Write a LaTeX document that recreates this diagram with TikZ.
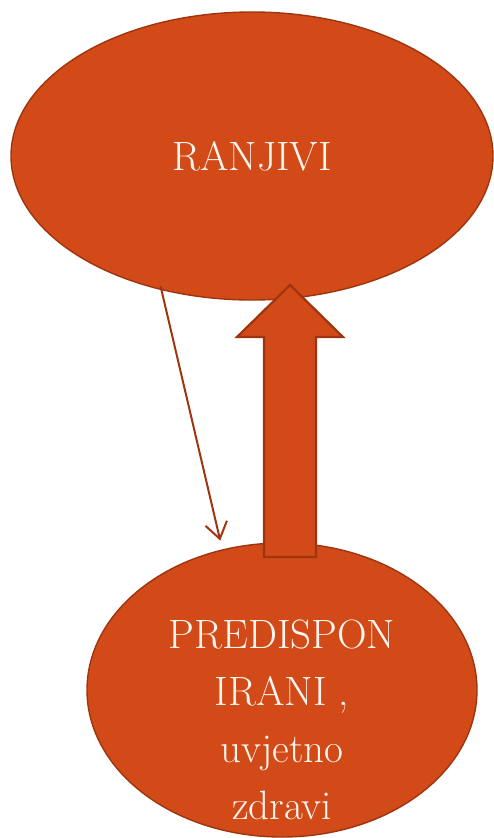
\documentclass[tikz,border=0pt]{standalone}
\usepackage{fontspec}
\usepackage{xcolor}
\usepackage{tikz}
\usetikzlibrary{shapes.geometric, arrows.meta}
\definecolor{rust}{HTML}{D14A17}
\definecolor{rustdark}{HTML}{9E3510}
\definecolor{cream}{HTML}{FFF6F0}
\tikzset{
  blob/.style={ellipse, draw=rustdark, fill=rust, line width=1.4pt,
               inner sep=0pt},
  words/.style={text=cream, align=center, inner sep=0pt,
                font=\fontsize{41}{57}\selectfont},
  thinarrow/.style={-{Straight Barb[length=16pt, width=22pt]}, draw=rustdark,
                    line width=2pt},
  bigarrow/.style={draw=rustdark, fill=rust, line width=2.2pt, line join=miter},
}

\begin{document}
\begin{tikzpicture}[x=1pt, y=-1pt]
  \useasboundingbox (0,0) rectangle (494,838);
  \node[blob, words, minimum width=482pt, minimum height=288pt] (ranj)
    at (252,156) {RANJIVI};
  \node[blob, minimum width=390pt, minimum height=294pt] (pred) at (282,690) {};
  \node[words] (predtxt) at (282,720) {PREDISPON\\IRANI ,\\uvjetno\\zdravi};

  \draw[thinarrow, shorten <=-4pt, shorten >=9pt] (ranj.236) -- (pred.113);

  \coordinate (tail) at (290,557);
  \coordinate (tip)  at (290,285);
  \draw[bigarrow] (tail) ++(-26,0) -- ++(0,-220) -- ++(-27,0) -- (tip)
    -- ++(53,52) -- ++(-27,0) -- ++(0,220) -- cycle;
\end{tikzpicture}
\end{document}
